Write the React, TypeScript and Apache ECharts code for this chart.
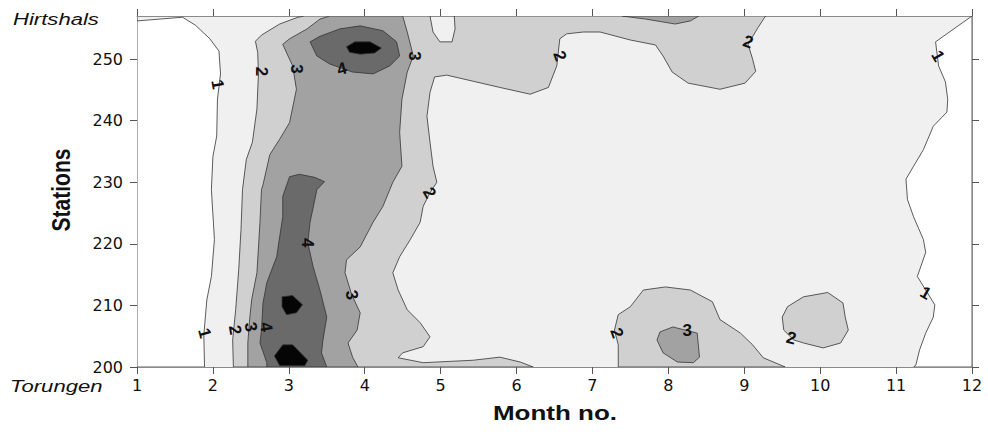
import React, { useEffect, useRef } from "react";
import * as echarts from "echarts";

type Pt = [number, number];

// Axes
const MONTH_MIN = 1;
const MONTH_MAX = 12;
const STATION_MIN = 200;
const STATION_MAX = 257;
const STATION_TICKS = [200, 210, 220, 230, 240, 250];

// Contour regions, [month, station]
const BELOW1_WEST: Pt[] = [
  [1, 256.2], [1.6, 256.8], [1.77, 255.5], [1.96, 253.3], [2.08, 251.3], [2.1, 247.6],
  [2.06, 243.5], [2.05, 237.5], [2.0, 234.2], [1.98, 228.8], [2.02, 220.7], [1.98, 214.7],
  [1.92, 210.9], [1.88, 205.2], [1.89, 200], [1, 200],
];
const BELOW1_EAST: Pt[] = [
  [12, 257], [11.52, 252.8], [11.56, 248.9], [11.65, 246.3], [11.68, 243.5], [11.67, 241.4],
  [11.49, 239.1], [11.36, 235.3], [11.23, 232.6], [11.13, 230.5], [11.15, 227.2], [11.23, 224.4],
  [11.36, 220.7], [11.39, 218.6], [11.28, 214.7], [11.51, 210.1], [11.49, 208.1], [11.39, 205.5],
  [11.31, 202.8], [11.26, 200.3], [11.23, 200], [12, 200],
];
const LEVEL2_MAIN: Pt[] = [
  [2.27, 200], [2.26, 204.4], [2.3, 209.3], [2.34, 215.8], [2.37, 222.3], [2.39, 228.8],
  [2.44, 233.7], [2.52, 236.5], [2.58, 241.9], [2.6, 247.6], [2.59, 251.1], [2.56, 252.9],
  [2.64, 253.9], [2.88, 255.7], [3.12, 256.8], [3.21, 257], [4.86, 257], [4.9, 254.4],
  [4.99, 252.8], [5.15, 252.8], [5.19, 254.9], [5.18, 257], [9.28, 257], [9.17, 254.9],
  [9.05, 252.4], [9.11, 250.0], [9.15, 248.0], [9.01, 246.1], [8.68, 245.1], [8.26, 246.1],
  [8.05, 247.9], [7.93, 250.5], [7.83, 252.3], [7.5, 253.1], [7.1, 254.4], [6.88, 254.4],
  [6.66, 254.1], [6.57, 253.3], [6.53, 248.9], [6.42, 245.4], [6.18, 244.3], [5.78, 245.4],
  [5.43, 246.4], [5.08, 247.4], [4.92, 247.1], [4.86, 244.6], [4.82, 240.7], [4.86, 236.5],
  [4.9, 232.6], [4.95, 230.0], [4.86, 228.3], [4.77, 226.1], [4.73, 223.5], [4.6, 220.7],
  [4.46, 217.9], [4.37, 215.3], [4.44, 212.5], [4.56, 209.3], [4.73, 207.2], [4.86, 204.9],
  [4.77, 203.3], [4.5, 202.3], [4.44, 201.5], [4.77, 200.7], [5.43, 201.1], [5.78, 201.6],
  [6.05, 200.8], [6.22, 200],
];
const LEVEL2_SOUTH_AUG: Pt[] = [
  [7.34, 200], [7.34, 203.6], [7.29, 206.0], [7.34, 208.5], [7.5, 209.8], [7.67, 212.5],
  [7.96, 213.0], [8.29, 212.5], [8.58, 210.6], [8.68, 207.7], [8.95, 205.5], [9.11, 203.6],
  [9.25, 201.5], [9.54, 200],
];
const LEVEL2_OCT: Pt[] = [
  [9.5, 208.1], [9.57, 209.8], [9.78, 211.4], [10.1, 212.1], [10.3, 210.4], [10.33, 208.1],
  [10.37, 206.0], [10.27, 203.9], [10.04, 203.1], [9.78, 203.9], [9.65, 204.4], [9.52, 206.0],
];
const LEVEL3_MAIN: Pt[] = [
  [2.46, 200], [2.46, 203.9], [2.48, 207.2], [2.51, 210.9], [2.58, 215.3], [2.62, 223.5],
  [2.64, 228.8], [2.66, 229.6], [2.75, 234.5], [2.88, 237.0], [3.01, 239.7], [3.1, 245.1],
  [3.05, 248.9], [2.92, 252.4], [3.01, 253.3], [3.24, 254.9], [3.41, 256.5], [3.54, 257],
  [4.5, 257], [4.56, 254.4], [4.64, 250.5], [4.56, 247.9], [4.49, 243.5], [4.46, 238.1],
  [4.49, 232.6], [4.37, 230.0], [4.33, 228.8], [4.24, 226.1], [4.11, 223.5], [3.94, 219.5],
  [3.76, 217.4], [3.74, 215.3], [3.83, 211.7], [3.94, 208.8], [3.9, 206.0], [3.78, 203.9],
  [3.84, 201.6], [3.91, 200],
];
const LEVEL3_NORTH_AUG: Pt[] = [
  [7.39, 257], [7.7, 256.5], [8.09, 255.7], [8.29, 256.2], [8.4, 257],
];
const LEVEL3_SOUTH_AUG: Pt[] = [
  [7.89, 205.7], [8.06, 206.5], [8.38, 205.5], [8.41, 201.6], [8.33, 200.7], [8.12, 200.8],
  [7.93, 202.3], [7.85, 204.4],
];
const LEVEL4_NORTH: Pt[] = [
  [3.28, 252.8], [3.41, 253.7], [3.67, 254.9], [3.94, 255.4], [4.24, 254.6], [4.42, 252.8],
  [4.46, 250.5], [4.33, 248.9], [4.11, 247.6], [3.84, 247.9], [3.54, 249.2], [3.37, 250.5],
];
const LEVEL4_MAR: Pt[] = [
  [2.71, 200], [2.71, 200.7], [2.62, 203.9], [2.64, 206.0], [2.66, 210.4], [2.71, 213.7],
  [2.84, 217.9], [2.92, 224.4], [2.92, 227.7], [3.01, 230.9], [3.14, 231.3], [3.34, 230.8],
  [3.47, 230.1], [3.37, 228.8], [3.28, 223.5], [3.25, 220.2], [3.32, 216.3], [3.41, 212.5],
  [3.5, 208.1], [3.45, 204.4], [3.43, 202.3], [3.5, 200],
];
const LEVEL5_NORTH: Pt[] = [
  [3.76, 252.0], [3.87, 252.8], [4.07, 252.8], [4.22, 251.8], [4.13, 251.0], [3.94, 250.8], [3.8, 251.1],
];
const LEVEL5_MAR_UPPER: Pt[] = [
  [2.91, 211.4], [3.05, 211.6], [3.18, 210.1], [3.1, 208.8], [2.97, 208.5], [2.91, 209.8],
];
const LEVEL5_MAR_LOWER: Pt[] = [
  [2.81, 201.8], [2.92, 203.6], [3.05, 203.6], [3.25, 201.1], [3.21, 200.2], [2.88, 200.2],
];

const LAYERS: { level: number; polys: Pt[][] }[] = [
  { level: 0, polys: [BELOW1_WEST, BELOW1_EAST] },
  { level: 2, polys: [LEVEL2_MAIN, LEVEL2_SOUTH_AUG, LEVEL2_OCT] },
  { level: 3, polys: [LEVEL3_MAIN, LEVEL3_NORTH_AUG, LEVEL3_SOUTH_AUG] },
  { level: 4, polys: [LEVEL4_NORTH, LEVEL4_MAR] },
  { level: 5, polys: [LEVEL5_NORTH, LEVEL5_MAR_UPPER, LEVEL5_MAR_LOWER] },
];

// Contour labels: text, month, station, angle (deg)
const CONTOUR_LABELS: { text: string; month: number; station: number; angle: number }[] = [
  { text: "1", month: 2.06, station: 245.9, angle: -80 },
  { text: "2", month: 2.64, station: 248.0, angle: -90 },
  { text: "3", month: 3.1, station: 248.4, angle: -90 },
  { text: "4", month: 3.7, station: 248.4, angle: 15 },
  { text: "3", month: 4.66, station: 250.5, angle: -90 },
  { text: "2", month: 6.57, station: 250.5, angle: -70 },
  { text: "2", month: 9.05, station: 252.8, angle: -20 },
  { text: "1", month: 11.55, station: 250.5, angle: -60 },
  { text: "2", month: 4.85, station: 228.3, angle: -60 },
  { text: "4", month: 3.25, station: 220.2, angle: -90 },
  { text: "3", month: 3.83, station: 211.7, angle: -80 },
  { text: "1", month: 1.89, station: 205.5, angle: -75 },
  { text: "2", month: 2.29, station: 206.0, angle: -80 },
  { text: "3", month: 2.5, station: 206.5, angle: -80 },
  { text: "4", month: 2.7, station: 206.5, angle: -80 },
  { text: "2", month: 7.32, station: 205.5, angle: -70 },
  { text: "3", month: 8.25, station: 206.0, angle: 0 },
  { text: "2", month: 9.62, station: 204.7, angle: -15 },
  { text: "1", month: 11.39, station: 212.0, angle: -30 },
];

const FILLS: Record<number, string> = {
  0: "#ffffff",
  1: "#f0f0f0",
  2: "#d0d0d0",
  3: "#a2a2a2",
  4: "#6a6a6a",
  5: "#050505",
};

export default function App() {
  const ref = useRef<HTMLDivElement>(null);
  useEffect(() => {
    document.body.style.margin = "0";
    if (!ref.current) return;
    const chart = echarts.init(ref.current, null, { renderer: "svg" });
    const axisLine = { show: true, onZero: false, lineStyle: { color: "#8a8a8a", width: 1 } };
    const axisTick = { show: true, inside: false, length: 7, lineStyle: { color: "#555", width: 1 } };
    const tickFont = { fontSize: 16, fontFamily: "DejaVu Sans", color: "#111" };

    const polySeries = LAYERS.map((layer, li) => ({
      type: "custom",
      coordinateSystem: "cartesian2d",
      xAxisIndex: 0,
      yAxisIndex: 0,
      silent: true,
      clip: true,
      z: 2 + li,
      encode: { x: 0, y: 1 },
      data: layer.polys.map((p, i) => [p[0][0], p[0][1], i]),
      renderItem: (params: any, api: any) => {
        const poly = layer.polys[params.dataIndex];
        const points = poly.map((p) => api.coord(p));
        return {
          type: "polygon",
          shape: { points },
          style: { fill: FILLS[layer.level], stroke: "#333", lineWidth: 0.8 },
        };
      },
    }));

    const labelSeries = {
      type: "custom",
      coordinateSystem: "cartesian2d",
      xAxisIndex: 0,
      yAxisIndex: 0,
      silent: true,
      z: 20,
      encode: { x: 0, y: 1 },
      data: CONTOUR_LABELS.map((l) => [l.month, l.station]),
      renderItem: (params: any, api: any) => {
        const l = CONTOUR_LABELS[params.dataIndex];
        const [x, y] = api.coord([l.month, l.station]);
        return {
          type: "text",
          x,
          y,
          rotation: (l.angle * Math.PI) / 180,
          style: {
            text: l.text,
            font: 'bold 17px "Liberation Sans", Arial, sans-serif',
            fill: "#111",
            align: "center",
            verticalAlign: "middle",
          },
        };
      },
    };

    chart.setOption({
      animation: false,
      grid: {
        left: 137,
        right: 16,
        top: 16,
        bottom: 69,
        show: true,
        backgroundColor: FILLS[1],
        borderWidth: 0,
      },
      xAxis: [
        {
          type: "value", position: "bottom", min: MONTH_MIN, max: MONTH_MAX, interval: 1,
          axisLine, axisTick, splitLine: { show: false },
          axisLabel: { ...tickFont, margin: 10 },
        },
        {
          type: "value", position: "top", min: MONTH_MIN, max: MONTH_MAX, interval: 1,
          axisLine, axisTick, splitLine: { show: false }, axisLabel: { show: false },
        },
      ],
      yAxis: [
        {
          type: "value", position: "left", min: STATION_MIN, max: STATION_MAX, interval: 10,
          axisLine, axisTick: { ...axisTick, customValues: STATION_TICKS }, splitLine: { show: false },
          axisLabel: { ...tickFont, margin: 14, customValues: STATION_TICKS },
        },
        {
          type: "value", position: "right", min: STATION_MIN, max: STATION_MAX, interval: 10,
          axisLine, axisTick: { ...axisTick, customValues: STATION_TICKS }, splitLine: { show: false },
          axisLabel: { show: false },
        },
      ],
      graphic: [
        {
          type: "text", x: 13, y: 19, scaleX: 1.3, silent: true,
          style: { text: "Hirtshals", font: 'italic 17px "Liberation Sans", Arial, sans-serif', fill: "#111", align: "left", verticalAlign: "middle" },
        },
        {
          type: "text", x: 10, y: 386, scaleX: 1.3, silent: true,
          style: { text: "Torungen", font: 'italic 17px "Liberation Sans", Arial, sans-serif', fill: "#111", align: "left", verticalAlign: "middle" },
        },
        {
          type: "text", x: 61, y: 190, rotation: Math.PI / 2, scaleY: 1.2, silent: true,
          style: { text: "Stations", font: 'bold 21px "Liberation Sans", Arial, sans-serif', fill: "#111", align: "center", verticalAlign: "middle" },
        },
        {
          type: "text", x: 555, y: 413, scaleX: 1.3, silent: true,
          style: { text: "Month no.", font: 'bold 20px "Liberation Sans", Arial, sans-serif', fill: "#111", align: "center", verticalAlign: "middle" },
        },
      ],
      series: [...polySeries, labelSeries],
    });
    return () => chart.dispose();
  }, []);
  return <div ref={ref} style={{ width: 988, height: 436 }} />;
}
